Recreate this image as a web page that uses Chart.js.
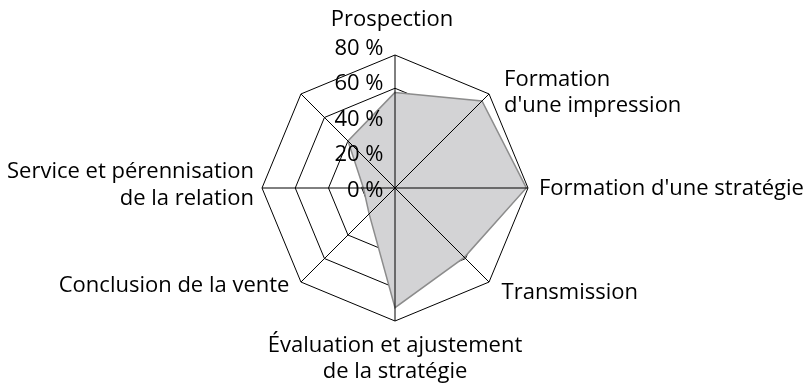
<!DOCTYPE html>
<html>
<head>
<meta charset="utf-8">
<script src="https://cdn.jsdelivr.net/npm/chart.js@4/dist/chart.umd.min.js"></script>
<style>
  html, body { margin: 0; padding: 0; background: #fff; }
  canvas { display: block; }
</style>
</head>
<body>
<canvas id="c" width="808" height="390"></canvas>
<script>
// ---- data ----
const categories = [
  'Prospection',
  ['Formation', "d'une impression"],
  "Formation d'une stratégie",
  'Transmission',
  ['Évaluation et ajustement', 'de la stratégie'],
  'Conclusion de la vente',
  ['Service et pérennisation', 'de la relation'],
  ''
];
const values = [57.5, 74, 79, 59, 72, 22, 19, 40];
const tickValues = [0, 20, 40, 60, 80];
const tickSuffix = ' %';

// ---- styling / layout (not data) ----
const FONT = '22px "Open Sans"';
const LINE_H = 26.7;
// per-label: alignment and offset from the outer vertex
const labelLayout = [
  { align: 'center', dx: -3,  dy: -29 },
  { align: 'left',   dx: 15,  dy: -8.3 },
  { align: 'left',   dx: 11,  dy: 7 },
  { align: 'left',   dx: 12.5, dy: 17.3 },
  { align: 'center', dx: 0,   dy: 30.7 },
  { align: 'right',  dx: -11.5, dy: 9.7 },
  { align: 'right',  dx: -8,  dy: -9.7 },
  { align: 'center', dx: 0,   dy: 0 }
];

const overlay = {
  id: 'overlay',
  afterDatasetsDraw(chart) {
    const s = chart.scales.r;
    const ctx = chart.ctx;
    const outer = s.getDistanceFromCenterForValue(s.max);
    ctx.save();
    // angle lines on top of the filled area
    ctx.strokeStyle = '#000';
    ctx.lineWidth = 1;
    for (let i = 0; i < categories.length; i++) {
      const p = s.getPointPosition(i, outer);
      ctx.beginPath();
      ctx.moveTo(s.xCenter, s.yCenter);
      ctx.lineTo(p.x, p.y);
      ctx.stroke();
    }
    // tick labels
    ctx.font = FONT;
    ctx.fillStyle = '#000';
    ctx.textAlign = 'right';
    ctx.textBaseline = 'alphabetic';
    tickValues.forEach(v => {
      const d = s.getDistanceFromCenterForValue(v);
      ctx.fillText(v + tickSuffix, s.xCenter - 11.5, s.yCenter - d * 1.065 + 8.7);
    });
    // point labels
    categories.forEach((lab, i) => {
      const lines = Array.isArray(lab) ? lab : [lab];
      const p = s.getPointPosition(i, outer);
      const L = labelLayout[i];
      ctx.textAlign = L.align;
      lines.forEach((t, k) => {
        ctx.fillText(t, p.x + L.dx, p.y + L.dy + k * LINE_H);
      });
    });
    ctx.restore();
  }
};

new Chart(document.getElementById('c'), {
  type: 'radar',
  data: {
    labels: categories,
    datasets: [{
      data: values,
      backgroundColor: '#d3d3d5',
      borderColor: '#8c8c8c',
      borderWidth: 1.5,
      pointRadius: 0,
      fill: true,
      tension: 0
    }]
  },
  options: {
    responsive: false,
    animation: false,
    devicePixelRatio: 1,
    layout: { padding: { left: 262, right: 280, top: 55, bottom: 69 } },
    plugins: { legend: { display: false }, tooltip: { enabled: false } },
    scales: {
      r: {
        min: 0,
        max: 80,
        ticks: { stepSize: 20, display: false },
        grid: { color: '#000', lineWidth: 1 },
        angleLines: { display: false },
        pointLabels: { display: false }
      }
    }
  },
  plugins: [overlay]
});
</script>
</body>
</html>
